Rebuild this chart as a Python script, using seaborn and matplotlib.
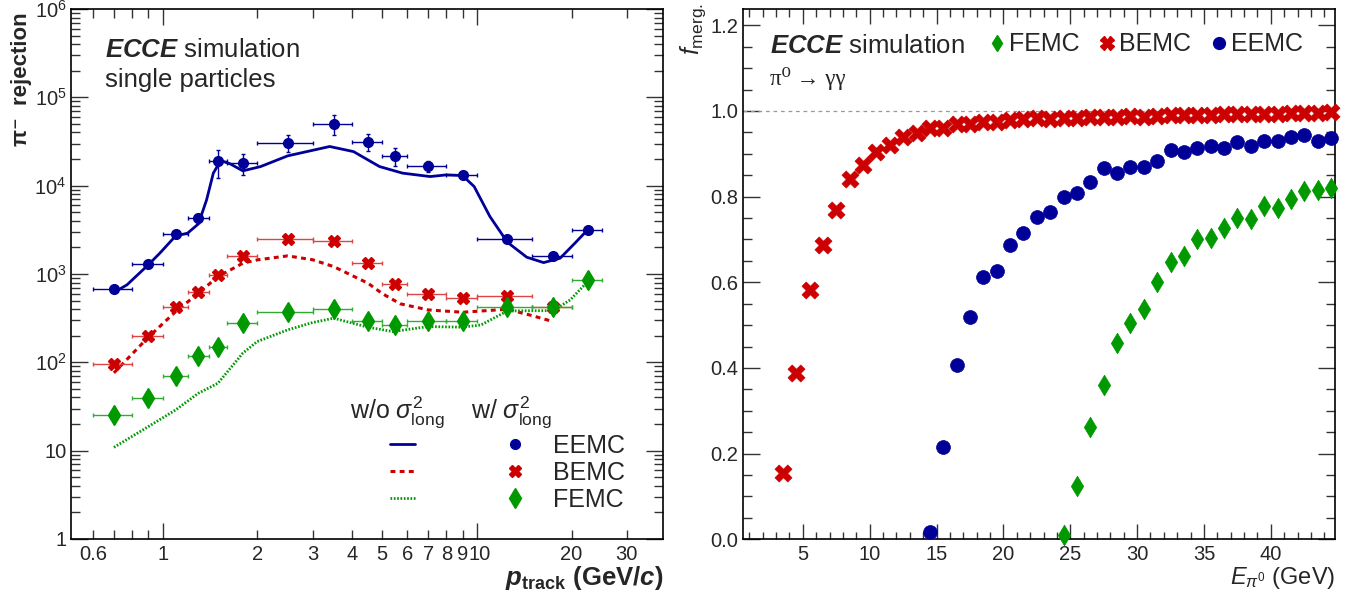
import numpy as np
import matplotlib
matplotlib.use('Agg')
import matplotlib.pyplot as plt
import matplotlib.transforms as mtransforms
from matplotlib.lines import Line2D
from matplotlib.legend_handler import HandlerTuple
from matplotlib.ticker import FixedLocator, MultipleLocator, FuncFormatter, LogLocator, NullFormatter
import seaborn as sns

sns.set_theme(style='ticks')
plt.rcParams['font.family'] = ['Liberation Sans', 'DejaVu Sans']
plt.rcParams['mathtext.fontset'] = 'custom'
plt.rcParams['mathtext.rm'] = 'Liberation Sans'
plt.rcParams['mathtext.it'] = 'Liberation Sans:italic'
plt.rcParams['mathtext.bf'] = 'Liberation Sans:bold'
plt.rcParams['mathtext.bfit'] = 'Liberation Sans:bold:italic'

BLUE, RED, GREEN = '#000099', '#cc0000', '#009900'

# ── left panel: pi- rejection vs p_track ─────────────────────────────────
p_lo = [0.6, 0.8, 1.0, 1.2, 1.4, 1.6, 2.0, 3.0, 4.0, 5.0, 6.0, 8.0, 10.0, 15.0, 20.0]
p_hi = [0.8, 1.0, 1.2, 1.4, 1.6, 2.0, 3.0, 4.0, 5.0, 6.0, 8.0, 10.0, 15.0, 20.0, 25.0]
p_mid = [0.7, 0.9, 1.1, 1.3, 1.5, 1.8, 2.5, 3.5, 4.5, 5.5, 7.0, 9.0, 12.5, 17.5, 22.5]

rej_eemc = [670, 1290, 2830, 4290, 18800, 18100, 30800, 50100, 31600, 21800, 16500, 13300, 2500, 1590, 3180]
err_eemc = [40, 80, 250, 550, 6500, 4800, 6500, 13000, 6700, 5000, 2300, 1000, 150, 100, 150]
rej_bemc = [95, 200, 421, 632, 977, 1600, 2480, 2390, 1325, 772, 590, 532, 565, 427]
rej_femc = [25.4, 39.8, 70, 118, 148, 277, 369, 403, 294, 265, 294, 294, 427, 427, 858]

# curves without sigma^2_long
fit_eemc_p = [0.707, 0.77, 0.9, 0.98, 1.1, 1.2, 1.3, 1.38, 1.45, 1.53, 1.64, 1.8, 2.05, 2.5, 3.4,
              4.05, 4.9, 5.8, 7.1, 8.0, 9.0, 9.8, 11.0, 12.5, 14.4, 16.3, 18.4, 20.5, 22.5]
fit_eemc = [632, 753, 1268, 1722, 2698, 2897, 3690, 6900, 13860, 19250, 17650, 14720, 16450, 21750, 27750,
            24300, 16450, 13860, 12680, 13250, 13030, 9770, 4470, 2290, 1550, 1346, 1510, 2234, 3162]
fit_bemc_p = [0.7, 0.9, 1.1, 1.3, 1.5, 1.8, 2.0, 2.5, 3.0, 3.5, 4.5, 5.0, 5.7, 7.0, 9.0, 12.5, 14.7, 17.5]
fit_bemc = [76, 192, 375, 606, 935, 1325, 1445, 1603, 1450, 1213, 787, 600, 460, 392, 369, 399, 344, 289]
fit_femc_p = [0.7, 0.9, 1.1, 1.3, 1.5, 1.8, 2.0, 2.5, 3.0, 3.5, 4.5, 5.4, 7.0, 9.0, 10.3, 12.5, 17.5, 19.8, 22.5]
fit_femc = [10.9, 18.7, 28.9, 44.7, 58, 127, 172, 233, 282, 316, 250, 223, 254, 250, 265, 382, 385, 509, 820]

# ── right panel: merged fraction vs E_pi0 ────────────────────────────────
e_bemc = [3.5, 4.5, 5.5, 6.5, 7.5, 8.5, 9.5, 10.5, 11.5, 12.5, 13.5, 14.5, 15.5, 16.5, 17.5, 18.5, 19.5,
          20.5, 21.5, 22.5, 23.5, 24.5, 25.5, 26.5, 27.5, 28.5, 29.5, 30.5, 31.5, 32.5, 33.5, 34.5,
          35.5, 36.5, 37.5, 38.5, 39.5, 40.5, 41.5, 42.5, 43.5, 44.5]
f_bemc = [0.154, 0.388, 0.581, 0.687, 0.769, 0.841, 0.874, 0.905, 0.921, 0.940, 0.948, 0.960, 0.960,
          0.969, 0.969, 0.975, 0.975, 0.978, 0.981, 0.983, 0.982, 0.984, 0.984, 0.986, 0.987, 0.987,
          0.988, 0.986, 0.989, 0.990, 0.990, 0.991, 0.991, 0.992, 0.992, 0.993, 0.993, 0.994, 0.995,
          0.995, 0.996, 0.997]
e_eemc = [14.5, 15.5, 16.5, 17.5, 18.5, 19.5, 20.5, 21.5, 22.5, 23.5, 24.5, 25.5, 26.5, 27.5, 28.5,
          29.5, 30.5, 31.5, 32.5, 33.5, 34.5, 35.5, 36.5, 37.5, 38.5, 39.5, 40.5, 41.5, 42.5, 43.5, 44.5]
f_eemc = [0.016, 0.216, 0.407, 0.518, 0.612, 0.627, 0.686, 0.714, 0.753, 0.763, 0.800, 0.808, 0.835,
          0.866, 0.856, 0.870, 0.868, 0.884, 0.909, 0.905, 0.914, 0.919, 0.913, 0.928, 0.919, 0.930,
          0.931, 0.940, 0.944, 0.931, 0.938]
e_femc = [24.5, 25.5, 26.5, 27.5, 28.5, 29.5, 30.5, 31.5, 32.5, 33.5, 34.5, 35.5, 36.5, 37.5, 38.5,
          39.5, 40.5, 41.5, 42.5, 43.5, 44.5]
f_femc = [0.010, 0.125, 0.263, 0.360, 0.458, 0.504, 0.537, 0.601, 0.647, 0.662, 0.701, 0.703, 0.726,
          0.751, 0.748, 0.777, 0.773, 0.795, 0.814, 0.816, 0.820]

W, H = 1359, 601
fig = plt.figure(figsize=(W / 100, H / 100), dpi=100)
axL = fig.add_axes([70.7 / W, 62 / H, 592 / W, 530 / H])
axR = fig.add_axes([742.7 / W, 61.7 / H, 592.3 / W, 530.3 / H])

TICK_FS = 14.5

# ---- left ----
xerr = [np.array(p_mid) - np.array(p_lo), np.array(p_hi) - np.array(p_mid)]
n_b = len(rej_bemc)
xerr_b = [xerr[0][:n_b], xerr[1][:n_b]]

sns.lineplot(x=fit_eemc_p, y=fit_eemc, ax=axL, color=BLUE, lw=2.0, sort=False, estimator=None, zorder=2)
sns.lineplot(x=fit_bemc_p, y=fit_bemc, ax=axL, color=RED, lw=2.2, sort=False, estimator=None,
             linestyle=(0, (1.6, 1.4)), zorder=2)
sns.lineplot(x=fit_femc_p, y=fit_femc, ax=axL, color=GREEN, lw=2.0, sort=False, estimator=None,
             linestyle=(0, (0.6, 0.6)), zorder=2)

axL.errorbar(p_mid, rej_eemc, xerr=xerr, yerr=err_eemc, fmt='o', color=BLUE, ms=7,
             elinewidth=1, capsize=1.5, zorder=3)
axL.errorbar(p_mid[:n_b], rej_bemc, xerr=xerr_b, fmt='X', color=RED, ms=9, mec=RED,
             ecolor='#dd4444', elinewidth=1, capsize=1.5, zorder=3)
axL.errorbar(p_mid, rej_femc, xerr=xerr, fmt='d', color=GREEN, ms=10, mec=GREEN,
             ecolor='#33aa33', elinewidth=1, capsize=1.5, zorder=3)

axL.set_xscale('log')
axL.set_yscale('log')
axL.set_xlim(0.51, 39)
axL.set_ylim(1, 1e6)

labeled = {0.6, 2, 3, 4, 5, 6, 7, 8, 9, 20, 30}
axL.xaxis.set_major_locator(FixedLocator([1, 10]))
axL.xaxis.set_major_formatter(FuncFormatter(lambda v, p: '%g' % v))
axL.xaxis.set_minor_locator(FixedLocator([0.6, 0.7, 0.8, 0.9, 2, 3, 4, 5, 6, 7, 8, 9, 20, 30]))
axL.xaxis.set_minor_formatter(FuncFormatter(lambda v, p: ('%g' % v) if round(v, 3) in labeled else ''))
axL.yaxis.set_major_locator(FixedLocator([1, 10, 1e2, 1e3, 1e4, 1e5, 1e6]))
axL.yaxis.set_major_formatter(FuncFormatter(
    lambda v, p: '1' if v < 2 else ('10' if v < 20 else r'$10^{%d}$' % round(np.log10(v)))))
axL.yaxis.set_minor_locator(LogLocator(base=10, subs=np.arange(2, 10)))
axL.yaxis.set_minor_formatter(NullFormatter())

# ---- right ----
axR.axhline(1.0, color='0.6', lw=0.9, ls=(0, (3, 3)), zorder=1)
sns.scatterplot(x=e_femc, y=f_femc, ax=axR, marker='d', s=110, color=GREEN, edgecolor=GREEN,
                linewidth=0.5, clip_on=False, zorder=3)
sns.scatterplot(x=e_bemc, y=f_bemc, ax=axR, marker='X', s=150, color=RED, edgecolor=RED,
                linewidth=0.5, clip_on=False, zorder=3)
sns.scatterplot(x=e_eemc, y=f_eemc, ax=axR, marker='o', s=100, color=BLUE, edgecolor=BLUE,
                linewidth=0.5, clip_on=False, zorder=3)
axR.set_xlim(0.5, 44.8)
axR.set_ylim(0, 1.238)
axR.xaxis.set_major_locator(MultipleLocator(5))
axR.xaxis.set_minor_locator(MultipleLocator(1))
axR.yaxis.set_major_locator(MultipleLocator(0.2))
axR.yaxis.set_minor_locator(MultipleLocator(0.05))
axR.yaxis.set_major_formatter(FuncFormatter(lambda v, p: '%.1f' % v))

for ax in (axL, axR):
    ax.set_xlabel('')
    ax.set_ylabel('')
    for s in ax.spines.values():
        s.set_linewidth(1.2)
        s.set_color('black')
    ax.tick_params(which='both', direction='in', top=True, right=True, width=1.0,
                   color='#333333', labelsize=TICK_FS)
    ax.tick_params(axis='x', which='both', pad=4)
    ax.tick_params(axis='y', which='both', pad=3)

axL.tick_params(axis='x', which='major', length=11.5)
axL.tick_params(axis='x', which='minor', length=6.5)
axL.tick_params(axis='y', which='major', length=12)
axL.tick_params(axis='y', which='minor', length=6.5)
axR.tick_params(axis='x', which='major', length=10.8)
axR.tick_params(axis='x', which='minor', length=5.4)
axR.tick_params(axis='y', which='major', length=12)
axR.tick_params(axis='y', which='minor', length=6.5)

# nudge the "10" label a little right so it does not run into "9"
shift = mtransforms.ScaledTranslation(2.5 / 100, 0, fig.dpi_scale_trans)
lab10 = axL.xaxis.get_major_ticks()[1].label1
lab10.set_transform(lab10.get_transform() + shift)

# ---- texts ----
axL.text(0.058, 0.923, r'$\mathbfit{ECCE}$ simulation', transform=axL.transAxes, fontsize=18.5, va='center')
axL.text(0.058, 0.866, 'single particles', transform=axL.transAxes, fontsize=18.5, va='center')
axR.text(0.046, 0.93, r'$\mathbfit{ECCE}$ simulation', transform=axR.transAxes, fontsize=18.5, va='center')
axR.text(0.046, 0.868, '\u03c0\u2070 \u2192 \u03b3\u03b3', transform=axR.transAxes, fontsize=16.5,
         va='center', family=['Liberation Serif', 'DejaVu Serif'])

fig.text(22 / W, 1 - 12 / H, 'π⁻  rejection', rotation=90, ha='center', va='top',
         fontsize=16, fontweight='bold')
fig.text(663 / W, 1 - 578 / H, r'$\mathbfit{p}_{\mathbf{track}}$ (GeV/$\mathbfit{c}$)', ha='right',
         va='center', fontsize=18.5, fontweight='bold')
fig.text(693 / W, 1 - 3 / H, r'$\mathit{f}_{\mathrm{merg.}}$', rotation=90, ha='center', va='top',
         fontsize=18)
fig.text(1335 / W, 1 - 578 / H, r'$\mathit{E}_{\pi^{0}}$ (GeV)', ha='right', va='center', fontsize=17)

# left legend: headers + (line, marker) rows
LEG_FS = 18
axL.text(0.472, 0.24, r'w/o $\sigma^{2}_{\mathrm{long}}$', transform=axL.transAxes, fontsize=LEG_FS, va='center')
axL.text(0.677, 0.24, r'w/ $\sigma^{2}_{\mathrm{long}}$', transform=axL.transAxes, fontsize=LEG_FS, va='center')
rows = [
    (Line2D([], [], color=BLUE, lw=2.0), Line2D([], [], color=BLUE, marker='o', ls='none', ms=7)),
    (Line2D([], [], color=RED, lw=2.2, ls=(0, (1.6, 1.4))), Line2D([], [], color=RED, marker='X', ls='none', ms=9)),
    (Line2D([], [], color=GREEN, lw=2.0, ls=(0, (0.6, 0.6))), Line2D([], [], color=GREEN, marker='d', ls='none', ms=10)),
]
axL.legend(rows, ['EEMC', 'BEMC', 'FEMC'], handler_map={tuple: HandlerTuple(ndivide=None, pad=3.5)},
           loc='upper left', bbox_to_anchor=(0.5394, 0.198), frameon=False, fontsize=LEG_FS,
           handlelength=5.5, handletextpad=1.0, borderpad=0, borderaxespad=0, labelspacing=0.12)

# right legend: one row
rh = [Line2D([], [], color=GREEN, marker='d', ls='none', ms=8),
      Line2D([], [], color=RED, marker='X', ls='none', ms=10),
      Line2D([], [], color=BLUE, marker='o', ls='none', ms=8.5)]
axR.legend(rh, ['FEMC', 'BEMC', 'EEMC'], loc='upper left', bbox_to_anchor=(0.413, 0.956), ncol=3,
           frameon=False, fontsize=18, handlelength=0.75, handletextpad=0.12, columnspacing=0.72,
           borderpad=0, borderaxespad=0)

fig.savefig('out.png', dpi=100)
